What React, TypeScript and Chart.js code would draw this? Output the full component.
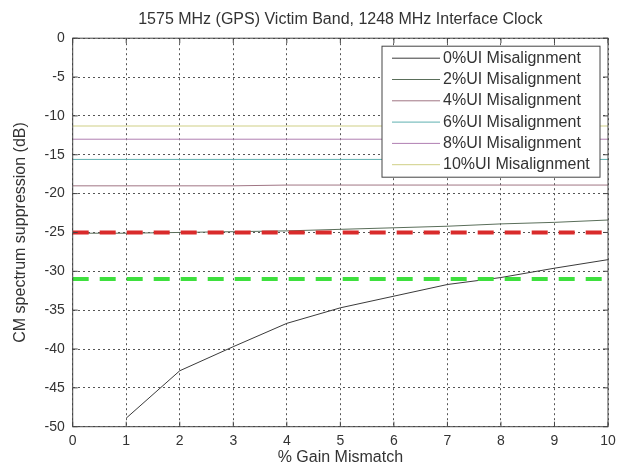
import { useEffect, useRef } from "react";
import { Chart, registerables, Plugin } from "chart.js";

Chart.register(...registerables);

// % gain mismatch (x axis)
const gainMismatch = [0, 1, 2, 3, 4, 5, 6, 7, 8, 9, 10];

// CM spectrum suppression (dB) per UI misalignment
const ui0 = [null, -48.9, -42.8, -39.7, -36.7, -34.7, -33.2, -31.7, -30.8, -29.6, -28.5];
const ui2 = [-25.1, -25.1, -25.0, -24.9, -24.8, -24.6, -24.4, -24.2, -23.9, -23.7, -23.4];
const ui4 = [-19.0, -19.0, -19.0, -19.0, -18.9, -18.9, -18.9, -18.9, -18.9, -18.9, -18.9];
const ui6 = [-15.6, -15.6, -15.6, -15.6, -15.6, -15.6, -15.6, -15.6, -15.6, -15.6, -15.6];
const ui8 = [-13.0, -13.0, -13.0, -13.0, -13.0, -13.0, -13.0, -13.0, -13.0, -13.0, -13.0];
const ui10 = [-11.3, -11.3, -11.3, -11.3, -11.3, -11.3, -11.3, -11.3, -11.3, -11.3, -11.3];

const seriesLabels = [
  "0%UI Misalignment",
  "2%UI Misalignment",
  "4%UI Misalignment",
  "6%UI Misalignment",
  "8%UI Misalignment",
  "10%UI Misalignment",
];
const seriesValues = [ui0, ui2, ui4, ui6, ui8, ui10];
const seriesColors = ["#3a3a3a", "#5a6e5a", "#a07584", "#5fb0b0", "#b07fb2", "#cfcf85"];

// limit lines
const redLimit = -25;
const greenLimit = -31;

const FONT = "'Liberation Sans', Arial, sans-serif";

const framePlugin: Plugin<"line"> = {
  id: "frame",
  afterDatasetsDraw(chart) {
    const { ctx, chartArea: a, scales } = chart;
    ctx.save();
    ctx.strokeStyle = "#444";
    ctx.lineWidth = 1;
    ctx.setLineDash([]);
    ctx.strokeRect(a.left, a.top, a.right - a.left, a.bottom - a.top);
    ctx.beginPath();
    scales.x.ticks.forEach((t) => {
      const px = scales.x.getPixelForValue(t.value);
      ctx.moveTo(px, a.bottom);
      ctx.lineTo(px, a.bottom - 5);
      ctx.moveTo(px, a.top);
      ctx.lineTo(px, a.top + 5);
    });
    scales.y.ticks.forEach((t) => {
      const py = scales.y.getPixelForValue(t.value);
      ctx.moveTo(a.left, py);
      ctx.lineTo(a.left + 5, py);
      ctx.moveTo(a.right, py);
      ctx.lineTo(a.right - 5, py);
    });
    ctx.stroke();
    ctx.restore();
  },
};

const boxLegendPlugin: Plugin<"line"> = {
  id: "boxLegend",
  afterDraw(chart) {
    const { ctx, chartArea: a } = chart;
    const items = chart.data.datasets.filter((d) => seriesLabels.includes(d.label as string));
    const w = 218;
    const rowH = 21.3;
    const h = 131;
    const left = a.right - w - 8;
    const top = a.top + 8;
    ctx.save();
    ctx.fillStyle = "#fff";
    ctx.fillRect(left, top, w, h);
    ctx.strokeStyle = "#444";
    ctx.lineWidth = 1;
    ctx.strokeRect(left, top, w, h);
    ctx.font = `16px ${FONT}`;
    ctx.textBaseline = "middle";
    items.forEach((d, i) => {
      const y = top + 12 + i * rowH;
      ctx.strokeStyle = d.borderColor as string;
      ctx.beginPath();
      ctx.moveTo(left + 10, y);
      ctx.lineTo(left + 58, y);
      ctx.stroke();
      ctx.fillStyle = "#333";
      ctx.fillText(d.label as string, left + 61, y);
    });
    ctx.restore();
  },
};

export default function App() {
  const canvasRef = useRef<HTMLCanvasElement>(null);
  const chartRef = useRef<Chart | null>(null);

  useEffect(() => {
    if (!canvasRef.current) return;
    if (chartRef.current) chartRef.current.destroy();

    const limitLine = (y: number, color: string, label: string) => ({
      label,
      data: gainMismatch.map((x) => ({ x, y })),
      borderColor: color,
      borderWidth: 4,
      borderDash: [16, 11],
      pointRadius: 0,
      order: 0,
    });

    const series = seriesLabels.map((label, i) => ({
      label,
      data: gainMismatch.map((x, j) => ({ x, y: seriesValues[i][j] })),
      borderColor: seriesColors[i],
      borderWidth: 1,
      pointRadius: 0,
      tension: 0,
      order: 1,
    }));

    chartRef.current = new Chart(canvasRef.current, {
      type: "line",
      data: {
        datasets: [
          limitLine(redLimit, "#d92b2b", "limit-red"),
          limitLine(greenLimit, "#3ee03e", "limit-green"),
          ...series,
        ] as any,
      },
      options: {
        animation: false,
        responsive: true,
        maintainAspectRatio: false,
        layout: { padding: { left: 0, right: 23, top: 0, bottom: 0 } },
        plugins: {
          legend: { display: false },
          tooltip: { enabled: false },
          title: {
            display: true,
            fullSize: false,
            text: "1575 MHz (GPS) Victim Band, 1248 MHz Interface Clock",
            color: "#333",
            font: { family: FONT, size: 16, weight: "normal" },
            padding: { top: 10, bottom: 9 },
          },
        },
        scales: {
          x: {
            type: "linear",
            min: 0,
            max: 10,
            afterFit: (s: any) => {
              s.height = 40.3;
            },
            ticks: {
              stepSize: 1,
              padding: 6,
              color: "#333",
              font: { family: FONT, size: 14 },
            },
            grid: { color: "#555", lineWidth: 1, drawTicks: false },
            border: { display: false, dash: [2, 3] },
            title: {
              display: true,
              text: "% Gain Mismatch",
              color: "#333",
              font: { family: FONT, size: 16 },
              padding: { top: 0, bottom: 0 },
            },
          },
          y: {
            type: "linear",
            min: -50,
            max: 0,
            afterFit: (s: any) => {
              s.width = 72.7;
            },
            ticks: {
              stepSize: 5,
              padding: 8,
              color: "#333",
              font: { family: FONT, size: 14 },
            },
            grid: { color: "#555", lineWidth: 1, drawTicks: false },
            border: { display: false, dash: [2, 3] },
            title: {
              display: true,
              text: "CM spectrum suppression (dB)",
              color: "#333",
              font: { family: FONT, size: 16 },
              padding: { top: 11, bottom: 0 },
            },
          },
        },
      },
      plugins: [framePlugin, boxLegendPlugin],
    });

    return () => {
      if (chartRef.current) {
        chartRef.current.destroy();
        chartRef.current = null;
      }
    };
  }, []);

  return (
    <div style={{ position: "absolute", left: 0, top: 0, width: 631, height: 467, background: "#fff" }}>
      <canvas ref={canvasRef} />
    </div>
  );
}
